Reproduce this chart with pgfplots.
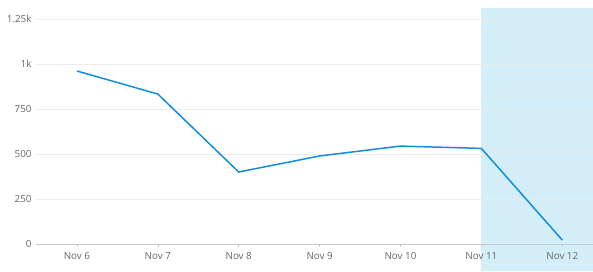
\documentclass[border=0pt]{standalone}
\usepackage{pgfplots}
\pgfplotsset{compat=1.18}
\usepackage{fontspec}
\setmainfont{Open Sans}
\definecolor{lineblue}{HTML}{118DDF}
\definecolor{shadeblue}{HTML}{D4EEF9}
\definecolor{ticktext}{HTML}{666666}
\definecolor{gridc}{HTML}{EBEBEB}
\definecolor{axisc}{HTML}{C8C8C8}
\begin{document}
\begin{tikzpicture}
\useasboundingbox (-36pt,-27pt) rectangle (557pt,244pt);
\begin{axis}[
  axis on top,
  scale only axis,
  width=557pt, height=236pt,
  at={(0pt,0pt)}, anchor=south west,
  xmin=-0.506, xmax=6.38,
  ymin=0, ymax=1311,
  clip=false,
  axis line style={draw=none},
  xtick={0,1,2,3,4,5,6},
  xticklabels={Nov 6,Nov 7,Nov 8,Nov 9,Nov 10,Nov 11,Nov 12},
  ytick={0,250,500,750,1000,1250},
  yticklabels={0,250,500,750,1k,1.25k},
  tick pos=left,
  xtick align=outside, major tick length=3pt,
  xtick style={axisc, line width=0.6pt},
  ytick style={draw=none},
  ticklabel style={font=\fontsize{9.8}{11}\selectfont, text=ticktext},
  xticklabel style={yshift=-2pt},
  yticklabel style={xshift=-1pt},
  /pgf/number format/assume math mode=true,
]
\addplot[draw=none, fill=shadeblue] coordinates {
(5,-150) (6.38,-150) (6.38,1311) (5,1311)} -- cycle;
\addplot[gridc, line width=0.6pt] coordinates {(-0.506,250) (6.38,250)};
\addplot[gridc, line width=0.6pt] coordinates {(-0.506,500) (6.38,500)};
\addplot[gridc, line width=0.6pt] coordinates {(-0.506,750) (6.38,750)};
\addplot[gridc, line width=0.6pt] coordinates {(-0.506,1000) (6.38,1000)};
\addplot[gridc, line width=0.6pt] coordinates {(-0.506,1250) (6.38,1250)};
\addplot[axisc, line width=0.8pt] coordinates {(-0.506,0) (6.38,0)};
\addplot[lineblue, line width=1.5pt, mark=none] coordinates {
(0,961) (1,833) (2,400) (3,489) (4,544) (5,531) (6,22)
};
\end{axis}
\end{tikzpicture}
\end{document}
